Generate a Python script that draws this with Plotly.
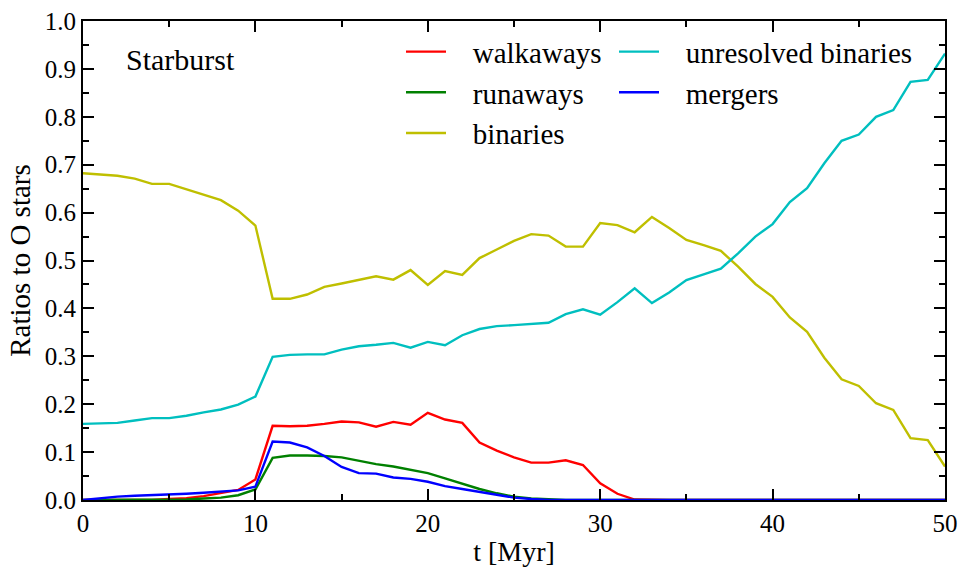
import plotly.graph_objects as go

t = list(range(0, 51))

walkaways = [0.000, 0.000, 0.000, 0.000, 0.000, 0.002, 0.004, 0.008, 0.014, 0.021,
             0.043, 0.155, 0.154, 0.155, 0.159, 0.164, 0.162, 0.153, 0.163, 0.157,
             0.182, 0.168, 0.161, 0.120, 0.103, 0.089, 0.078, 0.078, 0.083, 0.073,
             0.035, 0.013, 0.001, 0.000, 0.000, 0.000, 0.000, 0.000, 0.000, 0.000,
             0.000, 0.000, 0.000, 0.000, 0.000, 0.000, 0.000, 0.000, 0.000, 0.000, 0.000]

runaways = [0.000, 0.000, 0.000, 0.000, 0.000, 0.000, 0.001, 0.003, 0.005, 0.010,
            0.022, 0.088, 0.093, 0.093, 0.092, 0.089, 0.082, 0.075, 0.070, 0.063,
            0.056, 0.045, 0.034, 0.023, 0.014, 0.007, 0.003, 0.001, 0.000, 0.000,
            0.000, 0.000, 0.000, 0.000, 0.000, 0.000, 0.000, 0.000, 0.000, 0.000,
            0.000, 0.000, 0.000, 0.000, 0.000, 0.000, 0.000, 0.000, 0.000, 0.000, 0.000]

binaries = [0.682, 0.680, 0.677, 0.671, 0.660, 0.660, 0.649, 0.637, 0.626, 0.604,
            0.573, 0.420, 0.420, 0.429, 0.445, 0.452, 0.460, 0.467, 0.460, 0.480,
            0.449, 0.478, 0.470, 0.505, 0.523, 0.541, 0.555, 0.552, 0.529, 0.529,
            0.578, 0.574, 0.559, 0.591, 0.568, 0.543, 0.532, 0.520, 0.487, 0.451,
            0.424, 0.381, 0.351, 0.297, 0.252, 0.238, 0.202, 0.188, 0.129, 0.125, 0.070]

unresolved = [0.159, 0.160, 0.161, 0.166, 0.171, 0.171, 0.176, 0.183, 0.189, 0.199,
              0.216, 0.299, 0.303, 0.304, 0.304, 0.314, 0.321, 0.324, 0.328, 0.318,
              0.330, 0.323, 0.344, 0.357, 0.363, 0.365, 0.367, 0.370, 0.388, 0.398,
              0.387, 0.413, 0.442, 0.411, 0.433, 0.459, 0.471, 0.483, 0.515, 0.550,
              0.576, 0.622, 0.651, 0.703, 0.750, 0.763, 0.800, 0.814, 0.873, 0.877, 0.932]

mergers = [0.000, 0.004, 0.007, 0.009, 0.010, 0.012, 0.013, 0.015, 0.017, 0.020,
           0.028, 0.122, 0.120, 0.110, 0.092, 0.069, 0.056, 0.055, 0.047, 0.044,
           0.038, 0.029, 0.023, 0.017, 0.010, 0.005, 0.002, 0.000, 0.000, 0.000,
           0.000, 0.000, 0.000, 0.000, 0.000, 0.000, 0.000, 0.000, 0.000, 0.000,
           0.000, 0.000, 0.000, 0.000, 0.000, 0.000, 0.000, 0.000, 0.000, 0.000, 0.000]

FONT = "Liberation Serif"
LW = 2.4
PAD = "\u00a0\u00a0\u00a0"

fig = go.Figure()
series = [
    ("walkaways", walkaways, "#ff0000", "legend"),
    ("runaways", runaways, "#008000", "legend"),
    ("binaries", binaries, "#bfbf00", "legend"),
    ("unresolved binaries", unresolved, "#00bfbf", "legend2"),
    ("mergers", mergers, "#0000ff", "legend2"),
]
for name, vals, col, leg in series:
    fig.add_trace(go.Scatter(x=t, y=vals, mode="lines", name=PAD + name,
                             line=dict(color=col, width=LW), legend=leg))

axis_common = dict(
    showline=True, linecolor="black", linewidth=2, mirror="ticks",
    ticks="inside", ticklen=11, tickwidth=1.5, tickcolor="black",
    showgrid=False, zeroline=False, automargin=False,
    tickfont=dict(family=FONT, size=25, color="black"),
)

fig.update_xaxes(range=[0, 50], dtick=10, tick0=0,
                 minor=dict(dtick=5, ticks="inside", ticklen=6, tickwidth=1.5, tickcolor="black"),
                 title=dict(text="t [Myr]", font=dict(family=FONT, size=28, color="black"), standoff=6),
                 **axis_common)
fig.update_yaxes(range=[0, 1.0], dtick=0.1, tick0=0, tickformat=".1f",
                 minor=dict(dtick=0.05, ticks="inside", ticklen=6, tickwidth=1.5, tickcolor="black"),
                 title=dict(text="Ratios to O stars", font=dict(family=FONT, size=29, color="black"), standoff=6),
                 **axis_common)

fig.add_annotation(x=2.38, y=0.92, xref="x", yref="y", text="Starburst",
                   showarrow=False, xanchor="left", yanchor="middle",
                   font=dict(family=FONT, size=30, color="black"))

leg_common = dict(font=dict(family=FONT, size=29, color="black"),
                  bgcolor="rgba(0,0,0,0)", borderwidth=0,
                  xanchor="left", yanchor="top", orientation="v",
                  itemwidth=40, tracegroupgap=0)

fig.update_layout(
    width=962, height=567,
    margin=dict(l=83, r=17, t=21, b=67, autoexpand=False),
    plot_bgcolor="white", paper_bgcolor="white",
    showlegend=True,
    legend=dict(x=(401 - 83) / 862, y=0.989, **leg_common),
    legend2=dict(x=(614 - 83) / 862, y=0.989, **leg_common),
)

fig.write_html("out.html")
